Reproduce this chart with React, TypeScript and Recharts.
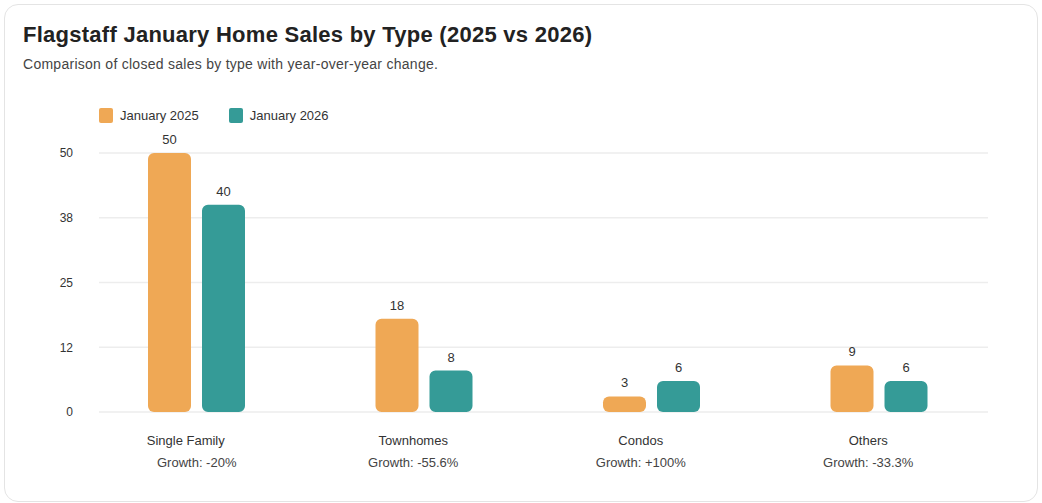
import React from 'react';
import { BarChart, Bar, XAxis, YAxis, CartesianGrid, LabelList } from 'recharts';

const categories = ['Single Family', 'Townhomes', 'Condos', 'Others'];
const sales2025 = [50, 18, 3, 9];
const sales2026 = [40, 8, 6, 6];
const growthLabels = ['Growth: -20%', 'Growth: -55.6%', 'Growth: +100%', 'Growth: -33.3%'];
const yTicks = [0, 12.5, 25, 37.5, 50];
const yTickLabels = ['0', '12', '25', '38', '50'];

const seriesNames = ['January 2025', 'January 2026'];
const seriesColors = ['#EFA855', '#359B97'];

const data = categories.map((name, i) => ({
    name,
    y2025: sales2025[i],
    y2026: sales2026[i],
    growth: growthLabels[i],
}));

const FONT = '"Liberation Sans", Arial, Helvetica, sans-serif';

const CategoryTick = (props: any) => {
    const { x, y, payload, index } = props;
    const growth = growthLabels[index] ?? data.find((d) => d.name === payload.value)?.growth;
    return (
        <g>
            <text x={x - 11} y={y} dy={25} textAnchor="middle" fill="#333" fontSize={13} fontFamily={FONT}>
                {payload.value}
            </text>
            <text x={index === 0 ? x : x - 11} y={y} dy={47} textAnchor="middle" fill="#444" fontSize={13} fontFamily={FONT}>
                {growth}
            </text>
        </g>
    );
};

const App: React.FC = () => {
    return (
        <div style={{ position: 'absolute', left: 0, top: 0, width: 1042, height: 503, fontFamily: FONT, background: '#fff' }}>
            <div
                style={{
                    position: 'absolute',
                    left: 4,
                    top: 4,
                    width: 1034,
                    height: 498,
                    boxSizing: 'border-box',
                    border: '1px solid #e4e4e4',
                    borderRadius: 14,
                }}
            />
            <div style={{ position: 'absolute', left: 23, top: 22, fontSize: 22, fontWeight: 700, color: '#222', whiteSpace: 'nowrap', letterSpacing: 0.26 }}>
                Flagstaff January Home Sales by Type (2025 vs 2026)
            </div>
            <div style={{ position: 'absolute', left: 23, top: 56, fontSize: 14, color: '#444', whiteSpace: 'nowrap', letterSpacing: 0.27 }}>
                Comparison of closed sales by type with year-over-year change.
            </div>
            <div style={{ position: 'absolute', left: 99, top: 108, display: 'flex', alignItems: 'center', fontSize: 13, color: '#333' }}>
                {seriesNames.map((name, i) => (
                    <div key={name} style={{ display: 'flex', alignItems: 'center', marginRight: 30 }}>
                        <span style={{ width: 14, height: 15, background: seriesColors[i], borderRadius: 2, marginRight: 7, display: 'inline-block' }} />
                        <span>{name}</span>
                    </div>
                ))}
            </div>
            <div style={{ position: 'absolute', left: 0, top: 0 }}>
                <BarChart
                    width={1042}
                    height={503}
                    data={data}
                    margin={{ top: 153, right: 49, left: 23, bottom: 31 }}
                    barSize={43}
                    barGap={11}
                >
                    <CartesianGrid vertical={false} stroke="#ededed" strokeWidth={1.5} x={99} width={889} />
                    <XAxis
                        dataKey="name"
                        axisLine={false}
                        tickLine={false}
                        height={60}
                        interval={0}
                        tick={<CategoryTick />}
                    />
                    <YAxis
                        width={60}
                        domain={[0, 50]}
                        ticks={yTicks}
                        axisLine={false}
                        tickLine={false}
                        tickMargin={4}
                        tickFormatter={(v: number) => yTickLabels[yTicks.indexOf(v)] ?? String(v)}
                        tick={{ fill: '#333', fontSize: 12, fontFamily: FONT }}
                    />
                    <Bar dataKey="y2025" name={seriesNames[0]} fill={seriesColors[0]} radius={[6, 6, 6, 6]} isAnimationActive={false}>
                        <LabelList dataKey="y2025" position="top" offset={9} fill="#333" fontSize={13} fontFamily={FONT} />
                    </Bar>
                    <Bar dataKey="y2026" name={seriesNames[1]} fill={seriesColors[1]} radius={[6, 6, 6, 6]} isAnimationActive={false}>
                        <LabelList dataKey="y2026" position="top" offset={9} fill="#333" fontSize={13} fontFamily={FONT} />
                    </Bar>
                </BarChart>
            </div>
        </div>
    );
};

export default App;
